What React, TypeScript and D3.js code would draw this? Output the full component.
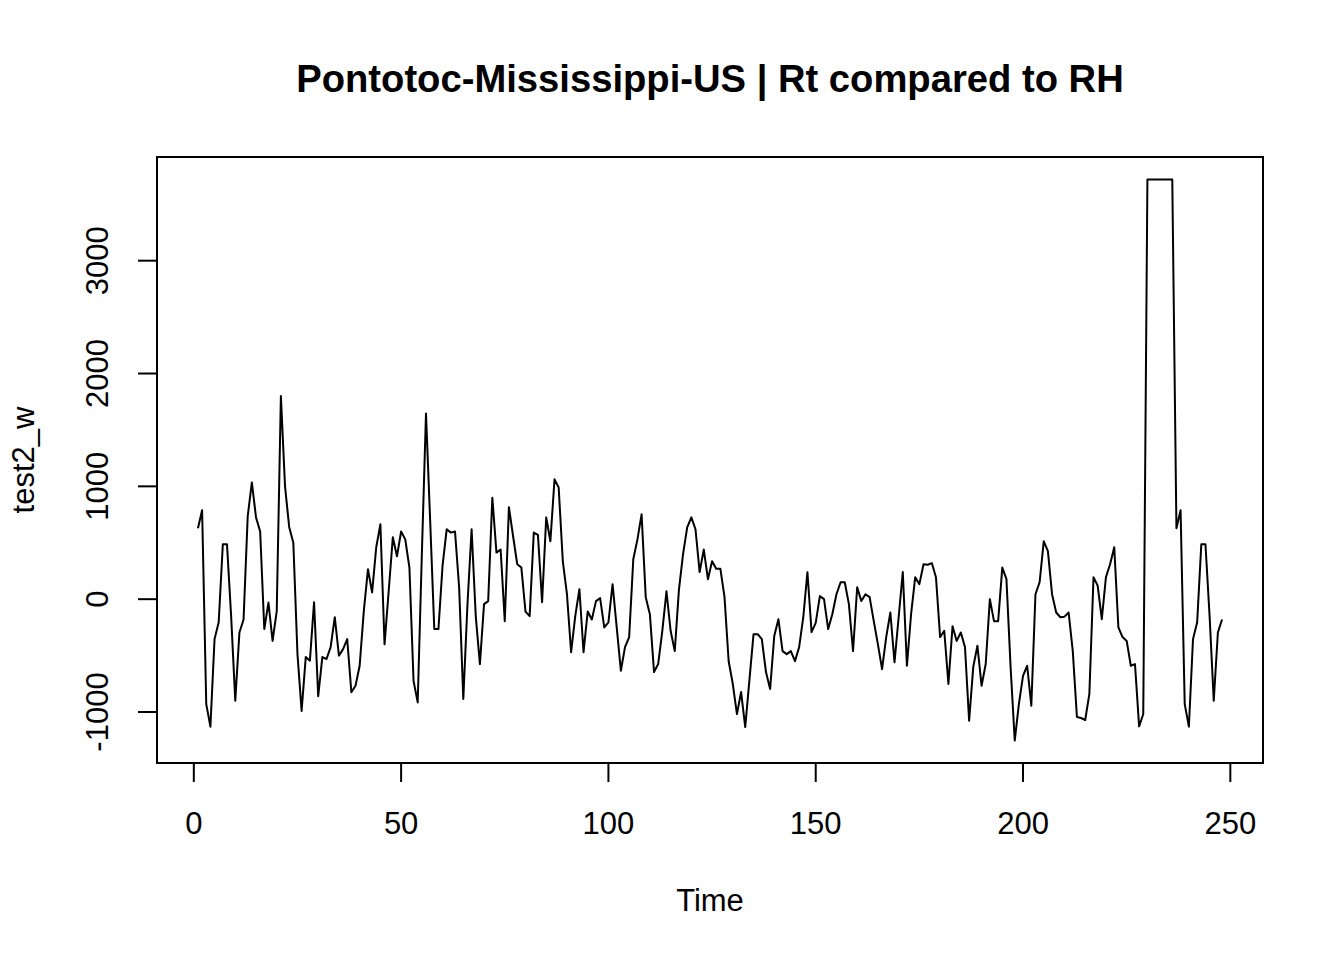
import * as d3 from "d3";
import React from "react";

// weekly series, t = 1..248
const values: number[] = [
  628, 788, -930, -1130, -354, -204, 487, 487, -150, -900,
  -295, -180, 735, 1035, 725, 600, -265, -30, -370, -106,
  1800, 1000, 640, 500, -487, -990, -513, -545, -27, -860,
  -513, -530, -425, -160, -500, -443, -354, -825, -767, -590,
  -106, 265, 60, 460, 664, -400, 70, 549, 380, 600,
  530, 280, -725, -915, 400, 1646, 700, -265, -265, 300,
  620, 590, 600, 100, -885, -50, 620, -150, -575, -44,
  -17, 900, 413, 440, -195, 815, 560, 310, 280, -110,
  -150, 590, 570, -27, 725, 513, 1062, 990, 336, 44,
  -470, -150, 88, -470, -110, -180, -17, 9, -250, -206,
  133, -250, -634, -425, -336, 354, 530, 752, 18, -133,
  -646, -575, -280, 70, -280, -460, 80, 400, 637, 725,
  620, 240, 440, 177, 336, 270, 270, 18, -550, -752,
  -1018, -823, -1133, -720, -310, -310, -354, -646, -796, -327,
  -177, -460, -487, -460, -549, -425, -160, 239, -292, -210,
  27, 0, -265, -133, 44, 150, 150, -44, -460, 106,
  -17, 44, 18, -195, -400, -620, -336, -118, -560, -160,
  240, -590, -133, 195, 133, 310, 305, 320, 195, -336,
  -280, -752, -240, -370, -295, -425, -1077, -600, -413, -767,
  -575, 0, -195, -195, 280, 177, -600, -1253, -930, -680,
  -590, -944, 44, 150, 513, 425, 44, -118, -160, -155,
  -118, -460, -1044, -1053, -1071, -840, 195, 120, -177, 195,
  310, 460, -250, -336, -370, -590, -575, -1127, -1018, 3720,
  3720, 3720, 3720, 3720, 3720, 3720, 628, 788, -930, -1130,
  -354, -204, 487, 487, -150, -900, -295, -180,
];

const xTicks = [0, 50, 100, 150, 200, 250];
const yTicks = [-1000, 0, 1000, 2000, 3000];

const titleText = "Pontotoc-Mississippi-US | Rt compared to RH";
const xLabel = "Time";
const yLabel = "test2_w";

const FONT = "'Liberation Sans', Arial, sans-serif";

export default function App() {
  const width = 1344;
  const height = 960;
  const plot = { left: 157, right: 1263, top: 157, bottom: 763 };

  const n = values.length;
  const xPad = (n - 1) * 0.04;
  const x = d3
    .scaleLinear()
    .domain([1 - xPad, n + xPad])
    .range([plot.left, plot.right]);

  const [yMin, yMax] = d3.extent(values) as [number, number];
  const yPad = (yMax - yMin) * 0.04;
  const y = d3
    .scaleLinear()
    .domain([yMin - yPad, yMax + yPad])
    .range([plot.bottom, plot.top]);

  const line = d3
    .line<number>()
    .x((_, i) => x(i + 1))
    .y((d) => y(d));

  const tickLen = 19;

  return (
    <svg
      width={width}
      height={height}
      style={{ position: "absolute", left: 0, top: 0, background: "white" }}
      fontFamily={FONT}
    >
      <rect x={0} y={0} width={width} height={height} fill="white" />

      {/* title */}
      <text x={(plot.left + plot.right) / 2} y={92} textAnchor="middle" fontSize={38.2} fontWeight="bold">
        {titleText}
      </text>

      {/* series */}
      <path d={line(values) ?? ""} fill="none" stroke="black" strokeWidth={2} strokeLinejoin="round" />

      {/* box */}
      <rect
        x={plot.left}
        y={plot.top}
        width={plot.right - plot.left}
        height={plot.bottom - plot.top}
        fill="none"
        stroke="black"
        strokeWidth={2}
      />

      {/* x axis */}
      {xTicks.map((t) => (
        <g key={`xt${t}`}>
          <line x1={x(t)} x2={x(t)} y1={plot.bottom} y2={plot.bottom + tickLen} stroke="black" strokeWidth={2} />
          <text x={x(t)} y={834} textAnchor="middle" fontSize={31}>
            {t}
          </text>
        </g>
      ))}

      {/* y axis */}
      {yTicks.map((t) => (
        <g key={`yt${t}`}>
          <line x1={plot.left - tickLen} x2={plot.left} y1={y(t)} y2={y(t)} stroke="black" strokeWidth={2} />
          <text transform={`translate(108, ${y(t)}) rotate(-90)`} textAnchor="middle" fontSize={31}>
            {t}
          </text>
        </g>
      ))}

      {/* axis labels */}
      <text x={(plot.left + plot.right) / 2} y={911} textAnchor="middle" fontSize={31}>
        {xLabel}
      </text>
      <text transform={`translate(34, ${(plot.top + plot.bottom) / 2}) rotate(-90)`} textAnchor="middle" fontSize={31}>
        {yLabel}
      </text>
    </svg>
  );
}
